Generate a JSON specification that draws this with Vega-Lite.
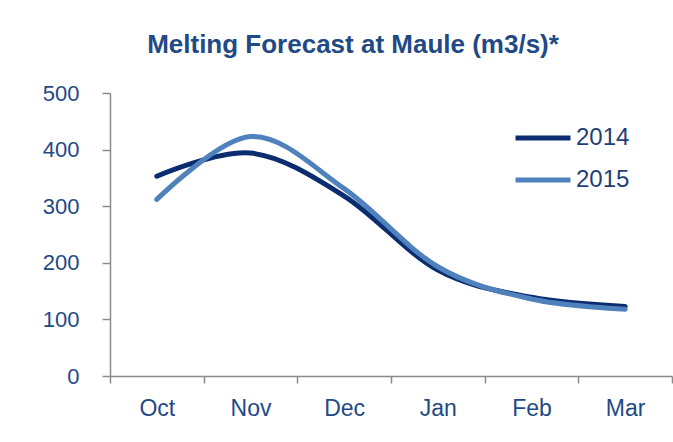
{
  "$schema": "https://vega.github.io/schema/vega-lite/v6.json",
  "autosize": "none",
  "width": 562,
  "height": 283,
  "padding": {"left": 110, "top": 93, "right": 1, "bottom": 66},
  "background": "white",
  "title": {
    "text": "Melting Forecast at Maule (m3/s)*",
    "font": "Liberation Sans",
    "fontSize": 26,
    "fontWeight": "bold",
    "color": "#1F4A85",
    "anchor": "middle",
    "frame": "group",
    "dx": -38,
    "offset": 24
  },
  "data": {
    "values": [
      {"month": "Oct", "year": "2014", "flow": 353},
      {"month": "Nov", "year": "2014", "flow": 394},
      {"month": "Dec", "year": "2014", "flow": 318},
      {"month": "Jan", "year": "2014", "flow": 187},
      {"month": "Feb", "year": "2014", "flow": 139},
      {"month": "Mar", "year": "2014", "flow": 123},
      {"month": "Oct", "year": "2015", "flow": 312},
      {"month": "Nov", "year": "2015", "flow": 423},
      {"month": "Dec", "year": "2015", "flow": 331},
      {"month": "Jan", "year": "2015", "flow": 193},
      {"month": "Feb", "year": "2015", "flow": 136},
      {"month": "Mar", "year": "2015", "flow": 118}
    ]
  },
  "mark": {"type": "line", "interpolate": "cardinal", "strokeWidth": 5, "strokeCap": "round"},
  "encoding": {
    "x": {
      "field": "month",
      "type": "ordinal",
      "sort": ["Oct", "Nov", "Dec", "Jan", "Feb", "Mar"],
      "scale": {"type": "band", "paddingInner": 0, "paddingOuter": 0},
      "axis": {
        "title": null,
        "labelAngle": 0,
        "tickBand": "extent",
        "labelFont": "Liberation Sans",
        "labelFontSize": 23,
        "labelColor": "#1F4A85",
        "labelPadding": 14,
        "tickSize": 7,
        "tickColor": "#8C8C8C",
        "tickWidth": 1.5,
        "domainColor": "#8C8C8C",
        "domainWidth": 1.5,
        "grid": false
      }
    },
    "y": {
      "field": "flow",
      "type": "quantitative",
      "scale": {"domain": [0, 500], "nice": false},
      "axis": {
        "title": null,
        "values": [0, 100, 200, 300, 400, 500],
        "labelFont": "Liberation Sans",
        "labelFontSize": 22,
        "labelColor": "#1F4A85",
        "labelPadding": 23,
        "tickSize": 8,
        "tickColor": "#8C8C8C",
        "tickWidth": 1.5,
        "domainColor": "#8C8C8C",
        "domainWidth": 1.5,
        "grid": false
      }
    },
    "color": {
      "field": "year",
      "type": "nominal",
      "scale": {"domain": ["2014", "2015"], "range": ["#0B2C6E", "#4F81BD"]},
      "legend": {
        "title": null,
        "orient": "none",
        "legendX": 403,
        "legendY": 15,
        "symbolType": "stroke",
        "symbolSize": 3025,
        "symbolStrokeWidth": 5,
        "rowPadding": -13,
        "labelOffset": 3,
        "labelFont": "Liberation Sans",
        "labelFontSize": 24,
        "labelColor": "#1F3F78"
      }
    }
  },
  "config": {"view": {"stroke": null}}
}
